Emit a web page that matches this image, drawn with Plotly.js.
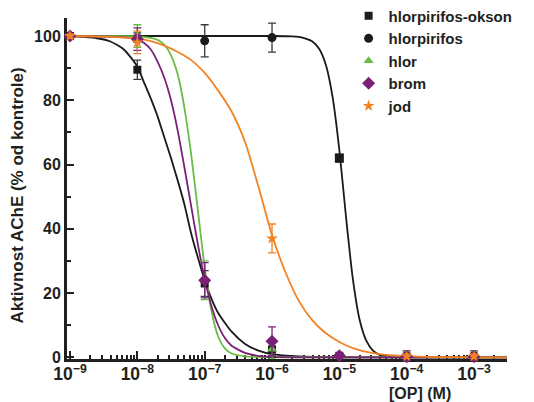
<!DOCTYPE html>
<html>
<head>
<meta charset="utf-8">
<script src="https://cdn.plot.ly/plotly-3.0.1.min.js"></script>
<style>html,body{margin:0;padding:0;background:#fff;}#chart{width:534px;height:402px;}</style>
</head>
<body>
<div id="chart"></div>
<script>
// ---- data (concentrations as log10 of molar [OP]) ----
const seriesNames = ["hlorpirifos-okson", "hlorpirifos", "hlor", "brom", "jod"];

const concLog = [-9, -8, -7, -6, -5, -4, -3];
const oksonY   = [100, 89.5, 23, 2.5, 0.5, 0.2, 0.2];
const oksonErr = [0.5, 3, 4, 2.5, 0.5, 0.4, 0.4];
const hlorpirifosY   = [100, 99.5, 98.5, 99.5, 62, 0.5, 0.5];
const hlorpirifosErr = [0.5, 1.5, 5, 4.5, 1.2, 1.5, 1.5];
const hlorY   = [100, 100, 24, 2.5, 0.2, 0.2, 0.2];
const hlorErr = [0.5, 3.5, 6, 3, 0.4, 0.3, 0.3];
const bromY   = [100, 99, 24, 5, 0.5, 0.2, 0.2];
const bromErr = [0.5, 3.5, 5.5, 4.5, 0.5, 0.3, 0.3];
const jodConcLog = [-9, -8, -6, -4, -3];
const jodY   = [100, 98, 37, 0.3, 0.3];
const jodErr = [0.6, 3.5, 4.5, 0.8, 0.8];

// fitted curves
const oksonCurveX = [-9.05,-8.8,-8.6,-8.4,-8.2,-8.0,-7.9,-7.8,-7.7,-7.6,-7.5,-7.4,-7.3,-7.2,-7.1,-7.0,-6.9,-6.8,-6.6,-6.4,-6.2,-6.0,-5.6,-5.0,-2.5];
const oksonCurveY = [100,99.7,99.3,98.3,95.8,90.5,85.5,80.5,75,68.5,62,55,47.5,38.5,31,24,18.3,13.8,8,4.2,2.1,1.0,0.3,0.05,0];
const hlorpirifosCurveX = [-9.05,-6.0,-5.7,-5.6,-5.5,-5.4,-5.3,-5.2,-5.1,-5.0,-4.9,-4.8,-4.7,-4.6,-4.5,-4.4,-4.2,-4.0,-2.5];
const hlorpirifosCurveY = [100,100,99.9,99.7,99.2,98.3,96,91,81,64.5,43.5,24.5,11.8,5.2,2.1,0.8,0.2,0.05,0];
const hlorCurveX = [-9.05,-8.0,-7.8,-7.7,-7.6,-7.5,-7.4,-7.3,-7.2,-7.1,-7.0,-6.9,-6.8,-6.7,-6.6,-6.4,-6.0,-2.5];
const hlorCurveY = [100,99.9,99.4,98.8,97.3,94,88,77.5,63,45.5,28,14.5,6.5,2.8,1.2,0.3,0.05,0];
const bromCurveX = [-9.05,-8.3,-8.0,-7.9,-7.8,-7.7,-7.6,-7.5,-7.4,-7.3,-7.2,-7.1,-7.0,-6.9,-6.8,-6.7,-6.6,-6.4,-6.2,-6.0,-2.5];
const bromCurveY = [100,99.7,99.0,97.8,95.8,92,87,80,70.5,59,47,35,24.5,16,10,6,3.6,1.4,0.5,0.15,0];
const jodCurveX = [-9.05,-8.5,-8.0,-7.8,-7.6,-7.4,-7.2,-7.0,-6.8,-6.6,-6.4,-6.2,-6.0,-5.8,-5.6,-5.4,-5.2,-5.0,-4.8,-4.5,-4.2,-3.9,-3.5,-3.0,-2.5];
const jodCurveY = [100,99.8,99.2,98.4,97,95,92.5,88.5,83,76.5,67,53,38,26.5,17.5,11.5,7.5,4.8,2.9,1.3,0.6,0.3,0.1,0.03,0];

// ---- styling ----
const colors = ["#1a1a1a", "#1a1a1a", "#6cbb45", "#7a2177", "#f28322"];
const symbols = ["square", "circle", "triangle-up", "diamond", "star"];
const hlorpirifosSymbols = ["circle","circle","circle","circle","square","circle","circle"];
const errColors = ["#3a3a3a", "#3a3a3a", "#6cbb45", "#7a2177", "#f28322"];
const markerSizes = [8, 9, 9, 10, 9];

const toM = a => a.map(v => Math.pow(10, v));

const curves = [
  [oksonCurveX, oksonCurveY],
  [hlorpirifosCurveX, hlorpirifosCurveY],
  [hlorCurveX, hlorCurveY],
  [bromCurveX, bromCurveY],
  [jodCurveX, jodCurveY]
];
const points = [
  [concLog, oksonY, oksonErr],
  [concLog, hlorpirifosY, hlorpirifosErr],
  [concLog, hlorY, hlorErr],
  [concLog, bromY, bromErr],
  [jodConcLog, jodY, jodErr]
];

const data = [];
curves.forEach((c, i) => {
  data.push({
    type: "scatter", mode: "lines",
    x: toM(c[0]), y: c[1],
    line: {color: colors[i], width: 1.8, shape: "spline", smoothing: 0.6},
    showlegend: false, hoverinfo: "skip", cliponaxis: false
  });
});
points.forEach((p, i) => {
  data.push({
    type: "scatter", mode: "markers",
    name: seriesNames[i],
    x: toM(p[0]), y: p[1],
    error_y: {type: "data", array: p[2], visible: true, color: errColors[i], thickness: 1.3, width: 4},
    marker: {color: colors[i], size: markerSizes[i], symbol: i === 1 ? hlorpirifosSymbols : symbols[i], line: {width: 0}},
    cliponaxis: false
  });
});

const fontFam = "Liberation Sans, Arial, sans-serif";
const layout = {
  width: 534, height: 402,
  margin: {l: 67, r: 27, t: 18, b: 43, autoexpand: false},
  paper_bgcolor: "#fff", plot_bgcolor: "#fff",
  font: {family: fontFam, color: "#231f20"},
  showlegend: true,
  legend: {
    x: 0.64, y: 1.054, xanchor: "left", yanchor: "top",
    font: {family: fontFam, size: 15, weight: "bold", color: "#231f20"},
    bgcolor: "rgba(0,0,0,0)", tracegroupgap: 0
  },
  xaxis: {
    type: "log", range: [-9.045, -2.51],
    dtick: 1, exponentformat: "power",
    showgrid: false, zeroline: false,
    showline: true, linecolor: "#231f20", linewidth: 3,
    ticks: "inside", ticklen: 8, tickwidth: 2, tickcolor: "#231f20",
    minor: {dtick: "D1", ticks: "inside", ticklen: 4, tickwidth: 2, tickcolor: "#231f20", showgrid: false},
    tickfont: {family: fontFam, size: 14, weight: "bold", color: "#231f20"},
    ticklabelstandoff: -2,
    layer: "below traces"
  },
  yaxis: {
    range: [-0.5, 105.6], dtick: 20, tick0: 0,
    showgrid: false, zeroline: false,
    showline: true, linecolor: "#231f20", linewidth: 3,
    ticks: "inside", ticklen: 7, tickwidth: 2, tickcolor: "#231f20",
    minor: {dtick: 10, ticks: "inside", ticklen: 4, tickwidth: 2, tickcolor: "#231f20", showgrid: false},
    tickfont: {family: fontFam, size: 16, weight: "bold", color: "#231f20"},
    layer: "below traces"
  },
  annotations: [
    {text: "Aktivnost AChE (% od kontrole)", xref: "paper", yref: "paper",
     x: -0.113, y: 0.48, xanchor: "center", yanchor: "middle", textangle: -90, showarrow: false,
     font: {family: fontFam, size: 17, weight: "bold", color: "#231f20"}},
    {text: "[OP] (M)", xref: "paper", yref: "paper",
     x: 0.803, y: -0.102, xanchor: "center", yanchor: "middle", showarrow: false,
     font: {family: fontFam, size: 16, weight: "bold", color: "#231f20"}}
  ]
};

Plotly.newPlot("chart", data, layout, {displayModeBar: false, staticPlot: true});
</script>
</body>
</html>
